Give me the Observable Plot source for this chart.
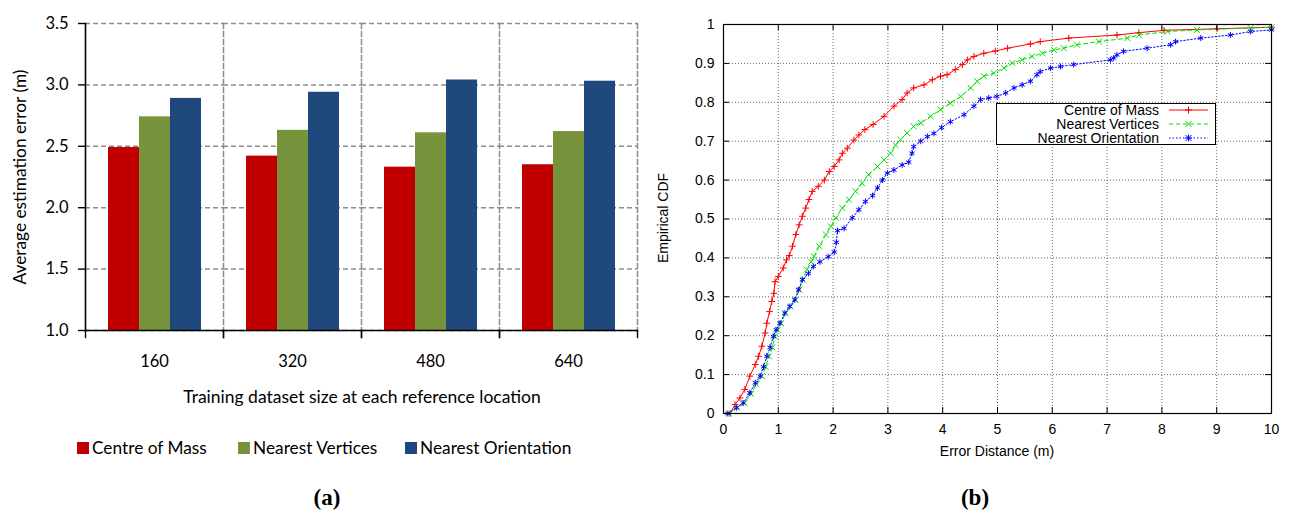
<!DOCTYPE html>
<html>
<head>
<meta charset="utf-8">
<script src="https://cdn.jsdelivr.net/npm/d3@7"></script>
<script src="https://cdn.jsdelivr.net/npm/@observablehq/plot@0.6"></script>
<style>
  html, body { margin: 0; padding: 0; background: #fff; }
  #page { position: relative; width: 1292px; height: 512px; overflow: hidden; background: #fff; }
  .abs { position: absolute; white-space: nowrap; line-height: 1; }
  .c { transform: translate(-50%, -50%); }
  .lato { font-family: Lato, "Open Sans", sans-serif; color: #000; }
  .helv { font-family: "Liberation Sans", Arial, sans-serif; color: #000; }
  .tag { font-family: "Liberation Serif", "Times New Roman", serif; font-weight: bold; font-size: 23px; }
  .sw { position: absolute; width: 12px; height: 12px; }
</style>
</head>
<body>
<div id="page">
  <div id="chartA" class="abs" style="left:0;top:0"></div>
  <div id="chartB" class="abs" style="left:650px;top:0"></div>

  <!-- panel (a) texts -->
  <div class="abs c lato" style="left:20px;top:177px;font-size:17.3px;transform:translate(-50%,-50%) rotate(-90deg)">Average estimation error (m)</div>
  <div class="abs c lato" style="left:362px;top:397px;font-size:17.5px">Training dataset size at each reference location</div>
  <div id="legendA"></div>
  <div class="abs c tag" style="left:327px;top:497px">(a)</div>

  <!-- panel (b) texts -->
  <div class="abs c helv" style="left:663px;top:218px;font-size:14px;transform:translate(-50%,-50%) rotate(-90deg)">Empirical CDF</div>
  <div class="abs c helv" style="left:997px;top:451px;font-size:14px">Error Distance (m)</div>
  <div id="legendB"></div>
  <div class="abs c tag" style="left:975px;top:497px">(b)</div>
</div>
<script>
// ---------------- Data: panel (a) ----------------
const sizes = ["160", "320", "480", "640"];
const methods = ["Centre of Mass", "Nearest Vertices", "Nearest Orientation"];
const centreOfMassAvg = [2.49, 2.42, 2.33, 2.35];
const nearestVerticesAvg = [2.74, 2.63, 2.61, 2.62];
const nearestOrientationAvg = [2.89, 2.94, 3.04, 3.03];
const errorTicks = [1.0, 1.5, 2.0, 2.5, 3.0, 3.5];
const colorsA = ["#C00000", "#77933C", "#1F497D"];

// ---------------- Data: panel (b) ----------------
const cdfCentreOfMass = [
  [0.12,0],[0.21,0.023],[0.30,0.04],[0.39,0.062],[0.48,0.096],[0.58,0.126],[0.64,0.147],[0.70,0.173],
  [0.76,0.207],[0.79,0.232],[0.84,0.262],[0.88,0.288],[0.92,0.309],[0.94,0.339],[1.0,0.352],[1.09,0.374],
  [1.15,0.395],[1.2,0.406],[1.26,0.43],[1.32,0.46],[1.38,0.485],[1.44,0.507],[1.5,0.528],[1.56,0.55],
  [1.62,0.571],[1.73,0.584],[1.84,0.60],[1.93,0.622],[2.02,0.635],[2.11,0.652],[2.17,0.669],[2.26,0.682],
  [2.38,0.703],[2.47,0.716],[2.58,0.73],[2.73,0.743],[2.93,0.764],[3.11,0.79],[3.26,0.807],[3.35,0.824],
  [3.47,0.837],[3.66,0.845],[3.81,0.858],[3.96,0.867],[4.08,0.871],[4.23,0.884],[4.36,0.897],[4.45,0.909],
  [4.57,0.918],[4.75,0.926],[4.96,0.932],[5.18,0.939],[5.6,0.95],[5.78,0.956],[6.3,0.965],[7.18,0.973],
  [7.58,0.979],[8.04,0.985],[9.01,0.989],[10,0.993]
];
const cdfNearestVertices = [
  [0.1,0],[0.25,0.015],[0.38,0.027],[0.5,0.05],[0.6,0.075],[0.7,0.096],[0.77,0.12],[0.83,0.147],
  [0.89,0.17],[0.94,0.198],[0.99,0.215],[1.05,0.232],[1.13,0.258],[1.22,0.275],[1.31,0.292],[1.38,0.318],
  [1.45,0.344],[1.52,0.37],[1.6,0.39],[1.65,0.404],[1.75,0.43],[1.87,0.46],[1.96,0.481],[2.05,0.503],
  [2.17,0.528],[2.29,0.55],[2.41,0.571],[2.53,0.592],[2.65,0.614],[2.81,0.635],[2.93,0.652],[3.05,0.669],
  [3.14,0.69],[3.23,0.704],[3.35,0.721],[3.47,0.738],[3.6,0.747],[3.78,0.764],[3.96,0.781],[4.14,0.798],
  [4.33,0.815],[4.51,0.837],[4.63,0.854],[4.75,0.867],[4.93,0.875],[5.12,0.888],[5.27,0.901],[5.45,0.909],
  [5.63,0.918],[5.82,0.926],[6.03,0.935],[6.21,0.939],[6.45,0.948],[6.85,0.956],[7.37,0.965],[7.58,0.973],
  [8.1,0.982],[8.64,0.986],[9.62,0.991],[10,0.993]
];
const cdfNearestOrientation = [
  [0.08,0],[0.24,0.015],[0.36,0.027],[0.48,0.053],[0.58,0.079],[0.67,0.096],[0.73,0.12],[0.79,0.147],
  [0.85,0.17],[0.91,0.198],[0.96,0.215],[1.03,0.232],[1.12,0.258],[1.21,0.275],[1.3,0.292],[1.37,0.318],
  [1.44,0.344],[1.55,0.36],[1.64,0.378],[1.76,0.39],[1.91,0.403],[2.02,0.415],[2.06,0.44],[2.08,0.47],
  [2.2,0.476],[2.35,0.503],[2.47,0.524],[2.59,0.545],[2.72,0.56],[2.81,0.58],[2.9,0.60],[2.99,0.618],
  [3.11,0.626],[3.26,0.639],[3.38,0.646],[3.44,0.669],[3.47,0.686],[3.6,0.70],[3.72,0.712],[3.84,0.72],
  [3.98,0.735],[4.14,0.75],[4.39,0.768],[4.57,0.79],[4.69,0.807],[4.84,0.811],[4.99,0.815],[5.15,0.824],
  [5.3,0.837],[5.45,0.845],[5.6,0.854],[5.72,0.871],[5.78,0.879],[5.97,0.888],[6.15,0.892],[6.39,0.897],
  [7.06,0.909],[7.12,0.914],[7.18,0.922],[7.3,0.931],[7.73,0.939],[8.16,0.948],[8.25,0.956],[8.71,0.965],
  [9.25,0.973],[9.62,0.982],[10,0.986]
];
const distanceTicks = [0,1,2,3,4,5,6,7,8,9,10];
const cdfTicks = [0,0.1,0.2,0.3,0.4,0.5,0.6,0.7,0.8,0.9,1];
const colorsB = ["#ff0000", "#00e000", "#0000ff"];

// ---------------- Panel (a) ----------------
const avgBySeries = [centreOfMassAvg, nearestVerticesAvg, nearestOrientationAvg];
const rowsA = sizes.flatMap((s, i) => methods.map((m, k) => ({size: s, method: m, value: avgBySeries[k][i]})));
const yBase = errorTicks[0];
const gridA = {stroke: "#8c8c8c", strokeOpacity: 1, strokeWidth: 1.5, strokeDasharray: "5,3"};
const plotA = Plot.plot({
  width: 650, height: 380,
  marginLeft: 84, marginRight: 12, marginTop: 23, marginBottom: 50,
  style: {fontFamily: "Lato, 'Open Sans', sans-serif", fontSize: "16.5px", color: "#000", background: "transparent", overflow: "visible"},
  fx: {domain: sizes, padding: 0, label: null},
  x: {domain: methods, paddingInner: 0, paddingOuter: 0.71, axis: null},
  y: {domain: [yBase, errorTicks[errorTicks.length - 1]], label: null},
  color: {domain: methods, range: colorsA},
  marks: [
    Plot.gridY(errorTicks, gridA),
    Plot.frame({anchor: "right", ...gridA}),
    Plot.barY(rowsA, {fx: "size", x: "method", y1: yBase, y2: "value", fill: "method"}),
    Plot.ruleY([yBase], {stroke: "#000", strokeWidth: 1.6}),
    Plot.frame({anchor: "left", facet: "super", stroke: "#000", strokeWidth: 1.6}),
    Plot.frame({anchor: "left", insetTop: 307, insetBottom: -7, stroke: "#000", strokeWidth: 1.4}),
    Plot.frame({anchor: "right", insetTop: 307, insetBottom: -7, stroke: "#000", strokeWidth: 1.4}),
    Plot.axisY(errorTicks, {tickSize: 7, tickPadding: 10, tickFormat: d => d.toFixed(1), strokeWidth: 1.4}),
    Plot.axisFx({anchor: "bottom", tickSize: 0, tickPadding: 25, label: null})
  ]
});
document.getElementById("chartA").appendChild(plotA);

// legend (a)
const legA = document.getElementById("legendA");
const swX = [77, 238, 405];
methods.forEach((m, k) => {
  const sw = document.createElement("div");
  sw.className = "sw";
  sw.style.left = swX[k] + "px"; sw.style.top = "442px"; sw.style.background = colorsA[k];
  legA.appendChild(sw);
  const t = document.createElement("div");
  t.className = "abs lato";
  t.style.left = (swX[k] + 15) + "px"; t.style.top = "448px"; t.style.fontSize = "17.3px";
  t.style.transform = "translateY(-50%)";
  t.textContent = m;
  legA.appendChild(t);
});

// ---------------- Panel (b) ----------------
const seriesB = [
  {pts: cdfCentreOfMass, dash: null, symbol: "plus", r: 2.3},
  {pts: cdfNearestVertices, dash: "4,3", symbol: "times", r: 2.8},
  {pts: cdfNearestOrientation, dash: "1.5,2", symbol: "asterisk", r: 2.8}
];
const fw = 548, fh = 389, tk = 6;
const plotB = Plot.plot({
  width: 642, height: 470,
  marginLeft: 73, marginRight: 21, marginTop: 24, marginBottom: 57,
  style: {fontFamily: "'Liberation Sans', Arial, sans-serif", fontSize: "14px", color: "#000", background: "transparent", overflow: "visible"},
  x: {domain: [0, 10], label: null},
  y: {domain: [0, 1], label: null},
  marks: [
    Plot.gridX(distanceTicks, {stroke: "#000", strokeOpacity: 0.6, strokeDasharray: "1,2"}),
    Plot.gridY(cdfTicks, {stroke: "#000", strokeOpacity: 0.6, strokeDasharray: "1,2"}),
    ...seriesB.flatMap((s, k) => [
      Plot.line(s.pts, {x: d => d[0], y: d => d[1], stroke: colorsB[k], strokeWidth: 1, strokeDasharray: s.dash}),
      Plot.dot(s.pts, {x: d => d[0], y: d => d[1], symbol: s.symbol, r: s.r, stroke: colorsB[k], strokeWidth: 1, fill: "none"})
    ]),
    Plot.ruleX(distanceTicks, {insetTop: fh - tk, stroke: "#000"}),
    Plot.ruleX(distanceTicks, {insetBottom: fh - tk, stroke: "#000"}),
    Plot.ruleY(cdfTicks, {insetRight: fw - tk, stroke: "#000"}),
    Plot.ruleY(cdfTicks, {insetLeft: fw - tk, stroke: "#000"}),
    Plot.frame({stroke: "#000", strokeWidth: 1.2}),
    Plot.axisX(distanceTicks, {tickSize: 0, tickPadding: 11, tickFormat: d => String(d)}),
    Plot.axisY(cdfTicks, {tickSize: 0, tickPadding: 9, tickFormat: d => String(+d.toFixed(1))})
  ]
});
document.getElementById("chartB").appendChild(plotB);

// legend (b)
const legB = document.getElementById("legendB");
const box = document.createElement("div");
box.className = "abs";
box.style.cssText = "left:996px;top:103px;width:220px;height:42px;border:1px solid #000;background:#fff;box-sizing:border-box;";
legB.appendChild(box);
const rowY = [110, 124, 138];
const symPaths = {
  plus: "M-3.5,0H3.5M0,-3.5V3.5",
  times: "M-3,-3L3,3M-3,3L3,-3",
  asterisk: "M-3,-3L3,3M-3,3L3,-3M-3.5,0H3.5M0,-3.5V3.5"
};
methods.forEach((m, k) => {
  const t = document.createElement("div");
  t.className = "abs helv";
  t.style.cssText += `right:${1292 - 1159}px;top:${rowY[k]}px;font-size:14px;transform:translateY(-50%);`;
  t.textContent = m;
  legB.appendChild(t);
  const svg = document.createElementNS("http://www.w3.org/2000/svg", "svg");
  svg.setAttribute("width", 42); svg.setAttribute("height", 12);
  svg.style.cssText = `position:absolute;left:1168px;top:${rowY[k] - 6}px;overflow:visible`;
  svg.innerHTML = `<line x1="1" x2="40" y1="6" y2="6" stroke="${colorsB[k]}" stroke-width="1" ${seriesB[k].dash ? `stroke-dasharray="${seriesB[k].dash}"` : ""}/>` +
    `<path transform="translate(20.5,6)" d="${symPaths[seriesB[k].symbol]}" stroke="${colorsB[k]}" fill="none"/>`;
  legB.appendChild(svg);
});
</script>
</body>
</html>
